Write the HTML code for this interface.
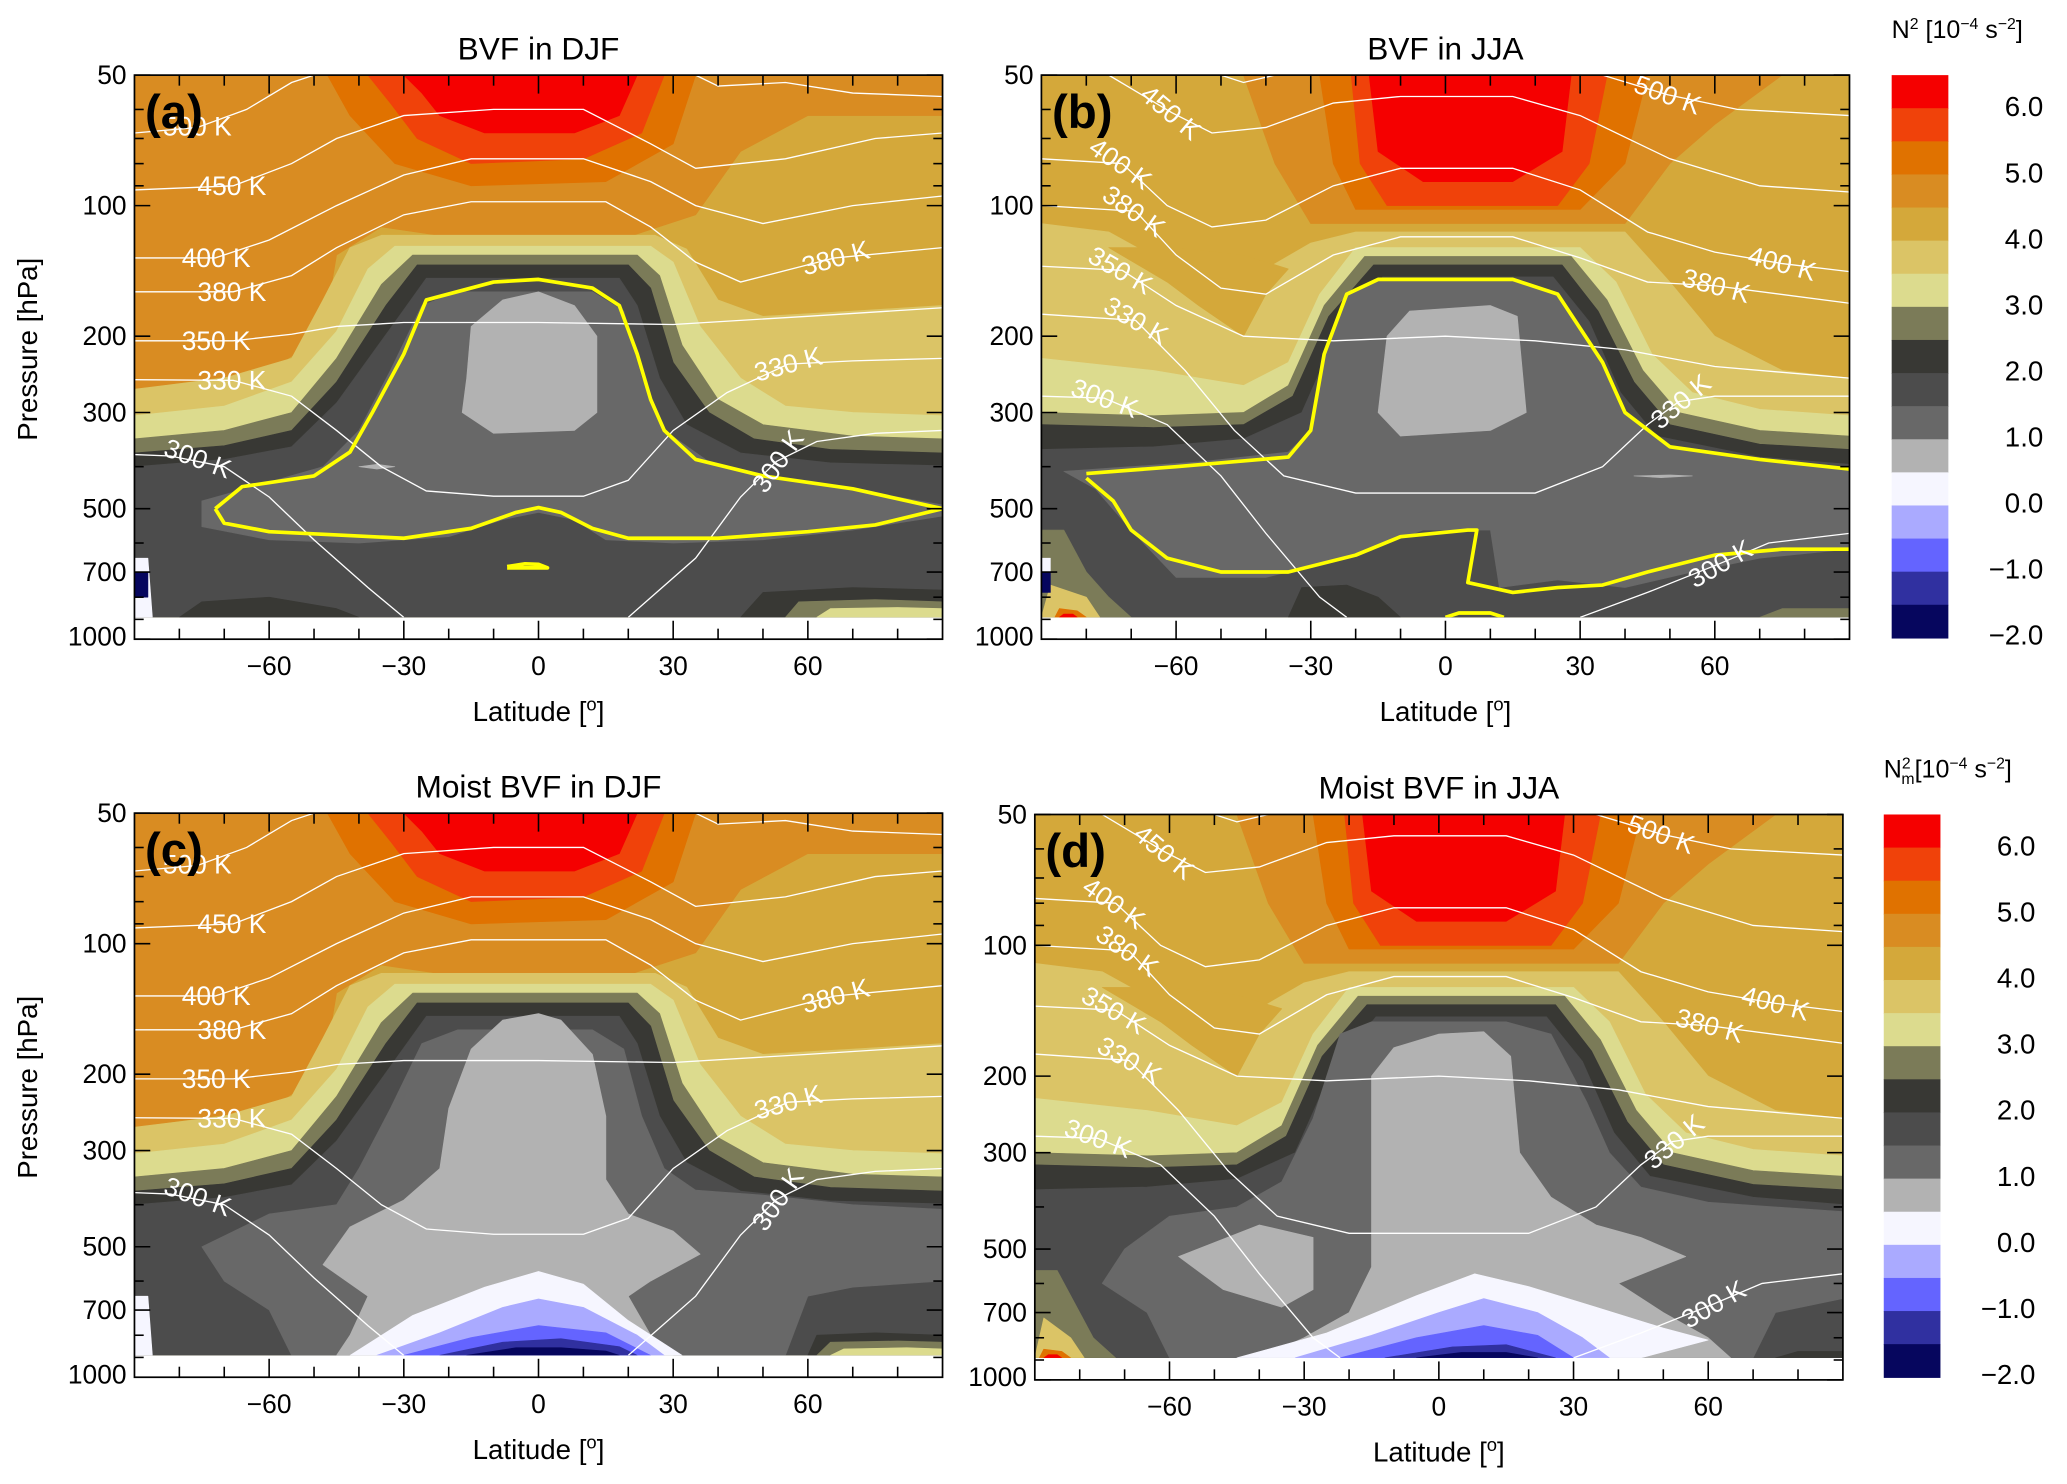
<!DOCTYPE html>
<html><head><meta charset="utf-8"><title>BVF</title>
<style>html,body{margin:0;padding:0;background:#fff;}svg{display:block;font-family:"Liberation Sans",Arial,sans-serif;}</style>
</head><body>
<svg id="fig" width="2067" height="1484" viewBox="0 0 1568 1126" preserveAspectRatio="none" xmlns="http://www.w3.org/2000/svg"></svg>
<script>
const COL={red:'#f50000',or1:'#f0420a',or2:'#e07200',or3:'#d98c22',gold:'#d4a83a',y1:'#dbc466',y2:'#dcdb8e',olive:'#7b7b58',dk:'#383834',g4:'#4c4c4c',g6:'#686868',lg:'#b2b2b2',wh:'#f6f6ff',lb:'#aaaaff',bl:'#6464ff',db:'#3030a0',nv:'#06065e'};
const cbColors=['red','or1','or2','or3','gold','y1','y2','olive','dk','g4','g6','lg','wh','lb','bl','db','nv'];
const cbLabels=['6.0','5.0','4.0','3.0','2.0','1.0','0.0','\u22121.0','\u22122.0'];
const latTicks=[-60,-30,0,30,60];
const pTicks=[50,100,200,300,500,700,1000];
const pMinor=[60,70,80,90,400,600,800,900];

const djfTop=[
 ['or3',[[-90,50],[90,50],[90,62],[60,62],[45,75],[35,105],[20,118],[-20,118],[-35,112],[-45,130],[-48,200],[-60,240],[-90,265]]],
 ['or2',[[-47,50],[35,50],[30,72],[15,88],[-15,90],[-32,80],[-42,62]]],
 ['or1',[[-38,50],[28,50],[23,68],[10,78],[-15,80],[-27,70],[-33,58]]],
 ['red',[[-30,50],[22,50],[18,62],[8,68],[-12,68],[-22,62],[-26,55]]],
 ['y1',[[-90,265],[-70,250],[-55,225],[-48,165],[-42,125],[-35,117],[26,117],[33,126],[40,165],[50,180],[70,175],[90,170],[90,1000],[-90,1000]]],
 ['y2',[[-90,305],[-70,290],[-55,255],[-45,195],[-38,140],[-32,124],[25,124],[30,135],[36,190],[45,250],[55,290],[70,300],[90,305],[90,1000],[-90,1000]]],
 ['olive',[[-90,345],[-70,330],[-55,300],[-45,225],[-35,152],[-28,130],[22,130],[27,145],[32,210],[40,280],[50,320],[70,340],[90,345],[90,1000],[-90,1000]]],
 ['dk',[[-90,372],[-70,358],[-55,330],[-45,255],[-34,170],[-27,137],[20,137],[25,155],[30,230],[38,300],[48,345],[65,365],[90,372],[90,1000],[-90,1000]]],
 ['g4',[[-90,400],[-70,385],[-55,360],[-45,285],[-33,192],[-25,147],[18,147],[22,170],[27,250],[33,320],[45,372],[65,392],[90,398],[90,1000],[-90,1000]]]
];
const jjaTop=[
 ['or3',[[-45,50],[75,50],[60,65],[50,80],[40,110],[-30,110],[-38,80]]],
 ['or2',[[-28,50],[45,50],[40,80],[30,102],[-20,102],[-25,80]]],
 ['or1',[[-21,50],[36,50],[32,80],[25,100],[-13,100],[-19,80]]],
 ['red',[[-17,50],[28,50],[26,75],[15,88],[-5,88],[-15,75]]],
 ['y1',[[-90,110],[-75,115],[-60,140],[-50,150],[-40,140],[-30,122],[-20,115],[40,115],[50,150],[60,200],[75,240],[90,250],[90,1000],[-90,1000]]],
 ['gold',[[-75,125],[-62,150],[-55,170],[-45,200],[-40,160],[-35,140],[-45,130],[-60,125]]],
 ['y2',[[-90,225],[-65,240],[-45,260],[-35,230],[-28,160],[-20,125],[30,125],[38,150],[46,220],[55,270],[70,295],[90,305],[90,1000],[-90,1000]]],
 ['olive',[[-90,300],[-65,305],[-45,300],[-35,260],[-27,170],[-18,131],[28,131],[36,165],[44,240],[52,300],[70,330],[90,340],[90,1000],[-90,1000]]],
 ['dk',[[-90,320],[-65,325],[-45,320],[-34,275],[-26,180],[-16,137],[26,137],[34,175],[42,255],[50,320],[70,355],[90,365],[90,1000],[-90,1000]]],
 ['g4',[[-90,365],[-65,360],[-45,345],[-32,300],[-24,195],[-14,146],[24,146],[32,185],[39,270],[47,340],[70,380],[90,395],[90,1000],[-90,1000]]]
];
const aLow=[
 ['g6',[[-75,480],[-62,440],[-48,400],[-40,330],[-33,240],[-26,170],[-18,158],[12,158],[19,175],[23,250],[28,330],[38,390],[55,430],[75,460],[90,490],[90,520],[70,560],[50,590],[30,600],[15,590],[8,530],[0,510],[-8,530],[-20,580],[-40,600],[-60,590],[-75,550]]],
 ['lg',[[-16,250],[-15,190],[-8,165],[0,158],[8,170],[13,200],[13,300],[8,330],[-10,335],[-17,300]]],
 ['lg',[[-40,400],[-36,395],[-32,400],[-36,405]]],
 ['dk',[[-80,890],[-75,820],[-60,800],[-45,850],[-40,890]]],
 ['dk',[[45,890],[50,780],[70,760],[90,770],[90,890]]],
 ['olive',[[55,890],[58,820],[75,810],[90,820],[90,890]]],
 ['y2',[[62,890],[65,850],[80,845],[90,850],[90,890]]],
 ['wh',[[-90,650],[-87,650],[-86,890],[-90,890]]],
 ['nv',[[-90,700],[-87,700],[-87,800],[-90,800]]]
];
const bLow=[
 ['g6',[[-85,410],[-55,390],[-35,370],[-30,330],[-27,220],[-22,160],[-15,148],[15,148],[25,160],[35,230],[40,300],[50,360],[70,385],[90,405],[90,620],[70,650],[55,700],[40,760],[25,730],[12,760],[10,560],[-5,560],[-20,640],[-40,720],[-60,720],[-70,560],[-78,450]]],
 ['lg',[[-13,200],[-8,175],[10,170],[16,180],[18,300],[10,330],[-10,340],[-15,300]]],
 ['lg',[[42,420],[50,418],[55,420],[48,424]]],
 ['dk',[[-35,890],[-32,760],[-22,750],[-15,800],[-10,890]]],
 ['olive',[[-90,560],[-85,560],[-80,700],[-75,800],[-70,890],[-90,890]]],
 ['y1',[[-88,750],[-80,800],[-77,890],[-90,890]]],
 ['or2',[[-86,850],[-82,860],[-80,890],[-87,890]]],
 ['red',[[-85,875],[-83,875],[-82,890],[-86,890]]],
 ['wh',[[-90,650],[-88,650],[-88,700],[-90,700]]],
 ['nv',[[-90,700],[-88,700],[-88,780],[-90,780]]],
 ['olive',[[70,890],[75,850],[90,850],[90,890]]]
];
const moistDome=[[-20,240],[-15,175],[-8,150],[0,145],[5,150],[12,180],[15,250],[15,350],[20,420],[30,460],[36,520],[25,600],[20,650],[25,800],[30,890],[-45,890],[-42,800],[-38,650],[-48,550],[-42,450],[-30,390],[-22,330]];
const cLow=[
 ['g6',[[-75,500],[-60,420],[-45,400],[-40,330],[-33,240],[-26,170],[-18,158],[12,158],[19,175],[23,250],[28,330],[35,370],[50,380],[70,400],[90,410],[90,600],[70,620],[60,650],[55,890],[-55,890],[-60,700],[-70,600]]],
 ['lg',moistDome],
 ['wh',[[-42,890],[-28,720],[-12,620],[0,570],[10,610],[20,740],[32,890]]],
 ['lb',[[-36,890],[-22,790],[-8,690],[0,660],[10,690],[22,800],[28,890]]],
 ['bl',[[-30,890],[-15,810],[0,760],[15,790],[25,890]]],
 ['db',[[-22,890],[-8,830],[5,815],[18,850],[22,890]]],
 ['nv',[[-16,890],[-5,855],[5,855],[15,870],[18,890]]],
 ['dk',[[60,890],[62,800],[75,790],[90,800],[90,890]]],
 ['olive',[[62,890],[65,830],[80,825],[90,830],[90,890]]],
 ['y2',[[65,890],[68,860],[82,855],[90,860],[90,890]]],
 ['wh',[[-90,650],[-87,650],[-86,890],[-90,890]]]
];
const dLow=[
 ['g6',[[-75,600],[-70,500],[-60,420],[-45,400],[-35,350],[-28,250],[-22,160],[-15,150],[15,150],[25,160],[33,230],[38,300],[45,360],[60,390],[90,410],[90,650],[75,700],[70,890],[-60,890],[-65,700]]],
 ['lg',[[-15,200],[-10,172],[0,160],[10,158],[16,180],[18,300],[25,380],[35,440],[45,470],[55,520],[40,600],[50,700],[60,800],[65,890],[-40,890],[-30,800],[-20,700],[-15,550],[-15,400]]],
 ['lg',[[-58,520],[-40,440],[-28,470],[-28,620],[-35,680],[-48,620]]],
 ['wh',[[-45,890],[-25,780],[-5,640],[8,570],[20,610],[35,680],[50,760],[60,810],[45,890]]],
 ['lb',[[-32,890],[-15,790],[0,700],[10,650],[22,700],[32,800],[38,890]]],
 ['bl',[[-22,890],[-5,800],[10,750],[22,790],[30,890]]],
 ['db',[[-12,890],[3,840],[15,830],[26,890]]],
 ['nv',[[-5,890],[5,865],[15,865],[22,890]]],
 ['olive',[[-90,560],[-85,560],[-80,700],[-77,800],[-72,890],[-90,890]]],
 ['y1',[[-88,720],[-82,800],[-79,890],[-90,890]]],
 ['or2',[[-88,850],[-84,860],[-82,890],[-89,890]]],
 ['red',[[-87,875],[-85,875],[-84,890],[-88,890]]],
 ['dk',[[75,890],[80,860],[90,860],[90,890]]]
];
const djfLines=[
 [[-90,375],[-82,378],[-70,400],[-60,470],[-50,590],[-38,760],[-30,890]],
 [[20,890],[35,650],[45,470],[53,389],[62,350],[75,335],[90,330]],
 [[-90,252],[-68,253],[-55,275],[-45,330],[-35,400],[-25,455],[-10,468],[10,468],[20,430],[30,330],[42,270],[55.6,232],[70,228],[90,225]],
 [[-90,205],[-68,205],[-55,198],[-45,190],[-30,186],[0,186],[30,188],[60,180],[90,172]],
 [[-90,158],[-68,158],[-55,145],[-45,125],[-30,105],[-15,98],[15,98],[25,112],[35,135],[45,150],[66,132],[90,125]],
 [[-90,132],[-72,132],[-60,120],[-45,100],[-30,85],[-15,78],[10,78],[25,88],[35,100],[50,110],[70,100],[90,95]],
 [[-90,92],[-68,90],[-55,80],[-45,70],[-30,62],[-10,60],[10,60],[25,72],[35,82],[55,78],[75,70],[90,68]],
 [[-90,68],[-76,66],[-65,60],[-55,52],[-50,50]],
 [[35,50],[40,53],[55,52],[70,55],[90,56]]
];
const djfLab=[['500 K',-76,65.6,0],['450 K',-68.3,90,0],['400 K',-71.8,132,0],['380 K',-68.3,158,0],['350 K',-71.8,205,0],['330 K',-68.3,253,0],['300 K',-75.9,383,20],['380 K',66.2,132,-15],['330 K',55.6,232,-15],['300 K',53.3,389,-55]];
const jjaLines=[
 [[-90,275],[-76,278],[-62,320],[-50,420],[-40,570],[-28,800],[-22,890]],
 [[30,890],[45,780],[61,670],[72,600],[90,570]],
 [[-90,178],[-69,184],[-58,240],[-47,330],[-36,420],[-20,460],[20,460],[35,400],[45,320],[52,283],[60,275],[90,275]],
 [[-90,138],[-72,141],[-60,170],[-45,200],[-25,205],[0,200],[20,205],[40,215],[60,235],[90,250]],
 [[-90,100],[-69,103],[-60,130],[-50,155],[-40,160],[-25,130],[-10,118],[15,118],[30,132],[45,150],[60,153],[90,168]],
 [[-90,78],[-72,80],[-62,100],[-52,112],[-40,108],[-25,90],[-10,82],[15,82],[30,92],[45,115],[60,128],[75,136],[90,142]],
 [[-75,50],[-61,61],[-52,68],[-40,66],[-25,58],[-10,56],[15,56],[30,62],[50,78],[70,90],[90,93]],
 [[-50,50],[-45,52],[-38,50]],
 [[35,50],[49.5,55.5],[65,60],[90,62]]
];
const jjaLab=[['450 K',-61.2,61,40],['400 K',-72.4,80,35],['380 K',-69.4,103,35],['350 K',-72.4,141,30],['330 K',-68.9,184,30],['300 K',-75.9,278,20],['500 K',49.5,55.5,20],['400 K',75,136,15],['380 K',60.3,153,15],['330 K',52.4,283,-40],['300 K',61.2,670,-30]];
const yellowA=[[-72,500],[-66,445],[-50,420],[-42,370],[-37,300],[-30,220],[-25,165],[-10,150],[0,148],[12,155],[18,170],[22,220],[25,280],[28,330],[35,385],[50,420],[70,450],[90,500],[75,545],[60,565],[40,585],[20,585],[12,555],[5,510],[0,497],[-5,510],[-15,555],[-30,585],[-45,575],[-60,565],[-70,540],[-72,500]];
const yellowA2=[[-7,680],[-3,670],[0,672],[2,685],[-7,685]];
const yellowB=[[-80,415],[-60,400],[-35,380],[-30,330],[-27,220],[-22,160],[-15,148],[15,148],[25,160],[35,230],[40,300],[50,360],[70,385],[90,405]];
const yellowB2=[[-80,425],[-74,480],[-70,560],[-62,650],[-50,700],[-35,700],[-20,640],[-10,580],[5,560],[7,560],[5,740],[15,780],[25,760],[35,750],[45,700],[60,640],[75,620],[90,620]];
const yellowB3=[[0,890],[3,870],[10,870],[13,890]];

const panels=[
 {id:'a',x0:102,x1:715,y0:57,y1:485,title:'BVF in DJF',top:djfTop,low:aLow,lines:djfLines,lab:djfLab,yl:[[yellowA,1],[yellowA2,1]],ylabelX:28},
 {id:'b',x0:790,x1:1403,y0:57,y1:485,title:'BVF in JJA',top:jjaTop,low:bLow,lines:jjaLines,lab:jjaLab,yl:[[yellowB,0],[yellowB2,0],[yellowB3,0]]},
 {id:'c',x0:102,x1:715,y0:617,y1:1045,title:'Moist BVF in DJF',top:djfTop,low:cLow,lines:djfLines,lab:djfLab,yl:[],ylabelX:28},
 {id:'d',x0:785,x1:1398,y0:618,y1:1047,title:'Moist BVF in JJA',top:jjaTop,low:dLow,lines:jjaLines,lab:jjaLab,yl:[]}
];
const NS='http://www.w3.org/2000/svg';
const svg=document.getElementById('fig');
function mk(tag,attrs,parent){const e=document.createElementNS(NS,tag);for(const k in attrs)e.setAttribute(k,attrs[k]);(parent||svg).appendChild(e);return e;}
const defs=mk('defs',{});
panels.forEach(P=>{
 const X=lat=>P.x0+(lat+90)/180*(P.x1-P.x0);
 const Y=p=>P.y0+Math.log(p/50)/Math.log(20)*(P.y1-P.y0);
 const cp=mk('clipPath',{id:'clip'+P.id},defs);
 mk('rect',{x:X(-90),y:Y(50),width:X(90)-X(-90),height:Y(890)-Y(50)},cp);
 const g=mk('g',{'clip-path':'url(#clip'+P.id+')'});
 
 
 const bg=mk('rect',{x:X(-90),y:Y(50),width:X(90)-X(-90),height:Y(890)-Y(50),fill:COL.gold},g);
 
 
 const poly=(pts)=>pts.map(q=>X(q[0]).toFixed(1)+','+Y(q[1]).toFixed(1)).join(' ');
 P.top.concat(P.low).forEach(L=>{
  const e=mk('polygon',{points:poly(L[1]),fill:COL[L[0]],stroke:COL[L[0]],'stroke-width':0.5,'stroke-linejoin':'round'},g);
  
  
 });
 P.lines.forEach(l=>{
  const e=mk('polyline',{points:poly(l),fill:'none',stroke:'#fff','stroke-width':1},g);
  
  
 });
 P.yl.forEach(l=>{
  const e=mk('polyline',{points:poly(l[0]),fill:'none',stroke:'#ffff00','stroke-width':2.8,'stroke-linejoin':'round'},g);
  
  
 });
 P.lab.forEach(l=>{
  const t=mk('text',{x:X(l[1]),y:Y(l[2]),fill:'#fff','font-size':20,'text-anchor':'middle','dominant-baseline':'central',transform:`rotate(${l[3]} ${X(l[1])} ${Y(l[2])})`},g);
  t.textContent=l[0];
  
  
 });
 const fr=mk('rect',{x:P.x0,y:P.y0,width:P.x1-P.x0,height:P.y1-P.y0,fill:'none',stroke:'#000','stroke-width':1.3});
 
 
 const tk=mk('g',{stroke:'#000','stroke-width':1.2});
 
 
 for(let lat=-80;lat<=80;lat+=10){
  const L=(lat%30===0)?14:8;
  mk('line',{x1:X(lat),x2:X(lat),y1:P.y1,y2:P.y1-L},tk);
  mk('line',{x1:X(lat),x2:X(lat),y1:P.y0,y2:P.y0+L},tk);
 }
 pTicks.concat(pMinor).forEach(p=>{
  const L=pTicks.includes(p)?12:7;
  mk('line',{x1:P.x0,x2:P.x0+L,y1:Y(p),y2:Y(p)},tk);
  mk('line',{x1:P.x1,x2:P.x1-L,y1:Y(p),y2:Y(p)},tk);
 });
 latTicks.forEach(lat=>{
  const t=mk('text',{x:X(lat),y:P.y1+27,'font-size':20,'text-anchor':'middle'});
  t.textContent=(lat<0?'\u2212'+(-lat):lat);
  
  
 });
 pTicks.forEach(p=>{
  const t=mk('text',{x:P.x0-6,y:Y(p)+(p===1000?-2:0),'font-size':20,'text-anchor':'end','dominant-baseline':'central'});
  t.textContent=p;
  
  
 });
 const xl=mk('text',{x:(P.x0+P.x1)/2,y:P.y1+62,'font-size':21,'text-anchor':'middle'});
 xl.innerHTML='Latitude [<tspan dy="-8" font-size="14">o</tspan><tspan dy="8">]</tspan>';
 
 
 if(P.ylabelX){
  const yt=mk('text',{x:P.ylabelX,y:(P.y0+P.y1)/2-6,'font-size':21,'text-anchor':'middle',transform:`rotate(-90 ${P.ylabelX} ${(P.y0+P.y1)/2-6})`});
  yt.textContent='Pressure [hPa]';
  
  
 }
 const ti=mk('text',{x:(P.x0+P.x1)/2,y:P.y0-12,'font-size':24,'text-anchor':'middle'});
 ti.textContent=P.title;
 
 
 const pl=mk('text',{x:P.x0+8,y:P.y0+40,'font-size':36,'font-weight':'bold'});
 pl.textContent='('+P.id+')';
 
 
});
[{x:1435,y0:57,y1:484},{x:1429,y0:618,y1:1045}].forEach((C,ci)=>{
 const h=(C.y1-C.y0)/cbColors.length;
 const g=mk('g',{});
 
 
 cbColors.forEach((c,i)=>{
  const r=mk('rect',{x:C.x,y:C.y0+i*h,width:43,height:h+0.5,fill:COL[c]},g);
  
  
 });
 cbLabels.forEach((s,i)=>{
  const t=mk('text',{x:C.x+115,y:C.y0+24+i*50.1,'font-size':21,'text-anchor':'end','dominant-baseline':'central'},g);
  t.textContent=s;
  
  
 });
 const tt=mk('text',{x:C.x,y:C.y0-28,'font-size':19},g);
 tt.innerHTML=ci===0?'N<tspan dy="-7" font-size="12">2</tspan><tspan dy="7"> [10</tspan><tspan dy="-7" font-size="12">\u22124</tspan><tspan dy="7"> s</tspan><tspan dy="-7" font-size="12">\u22122</tspan><tspan dy="7">]</tspan>'
  :'N<tspan dy="-7" font-size="12">2</tspan><tspan dx="-7" dy="12" font-size="12">m</tspan><tspan dy="-5">[10</tspan><tspan dy="-7" font-size="12">\u22124</tspan><tspan dy="7"> s</tspan><tspan dy="-7" font-size="12">\u22122</tspan><tspan dy="7">]</tspan>';
 
 
});
</script>
</body></html>
